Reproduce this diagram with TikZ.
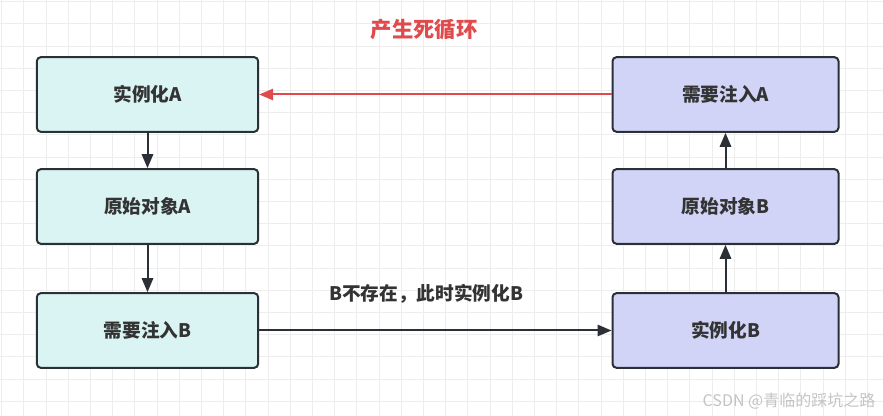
\documentclass[tikz,border=0pt]{standalone}
\usepackage{fontspec}
\setmainfont{Noto Sans CJK SC}
\usetikzlibrary{arrows.meta,positioning}
\definecolor{fillA}{HTML}{DAF4F3}
\definecolor{fillB}{HTML}{D1D4F6}
\definecolor{edgedark}{HTML}{2B2F36}
\definecolor{loopred}{HTML}{E04A4C}
\definecolor{gridgray}{HTML}{EDEDED}
\definecolor{textdark}{HTML}{333333}
\definecolor{markgray}{HTML}{C4C4C4}

\begin{document}
\begin{tikzpicture}[x=0.75pt, y=-0.75pt, >={Triangle[length=10.5pt,width=8.5pt]},
		a node/.style={rectangle, rounded corners=3pt, draw=edgedark, line width=1.5pt, fill=fillA, minimum width=166pt, minimum height=56pt, text=textdark, font=\bfseries\fontsize{14}{16}\selectfont},
		b node/.style={a node, fill=fillB, minimum width=169.5pt},
		flow/.style={->, draw=edgedark, fill=edgedark, line width=1.5pt},
		gridline/.style={draw=gridgray, line width=0.75pt}]
	\useasboundingbox (0,0) rectangle (883,416);
	\fill[white] (0,0) rectangle (883,416);
	\foreach \i in {0,...,39}{
		\draw[gridline] (1.6+22.2*\i,0) -- (1.6+22.2*\i,416);
	}
	\foreach \i in {0,...,18}{
		\draw[gridline] (0,1.8+22.2*\i) -- (883,1.8+22.2*\i);
	}
	
	\node[a node] (injB) at (147.5,330.5) {需要注入B};
	\node[a node] (origA) [above=35.5pt of injB] {原始对象A};
	\node[a node] (instA) [above=26.5pt of origA] {实例化A};
	\node[b node] (instB) at (725.5,330.5) {实例化B};
	\node[b node] (origB) [above=35.5pt of instB] {原始对象B};
	\node[b node] (injA) [above=26.5pt of origB] {需要注入A};
	
	\node[text=loopred, font=\bfseries\fontsize{16}{18}\selectfont] (title) at (424,30) {产生死循环};
	\node[text=markgray, font=\fontsize{12}{14}\selectfont, anchor=east] (mark) at (880,401) {CSDN @青临的踩坑之路};
	
	\path
		(instA) edge[flow] (origA)
		(origA) edge[flow] (injB)
		(injB) edge[flow] node[above=16pt, xshift=-7pt, text=textdark, font=\bfseries\fontsize{14}{16}\selectfont] {B不存在，此时实例化B} (instB)
		(instB) edge[flow] (origB)
		(origB) edge[flow] (injA)
	;
	\draw[->, draw=loopred, fill=loopred, line width=1.5pt] (injA) -- (instA);
\end{tikzpicture}
\end{document}
